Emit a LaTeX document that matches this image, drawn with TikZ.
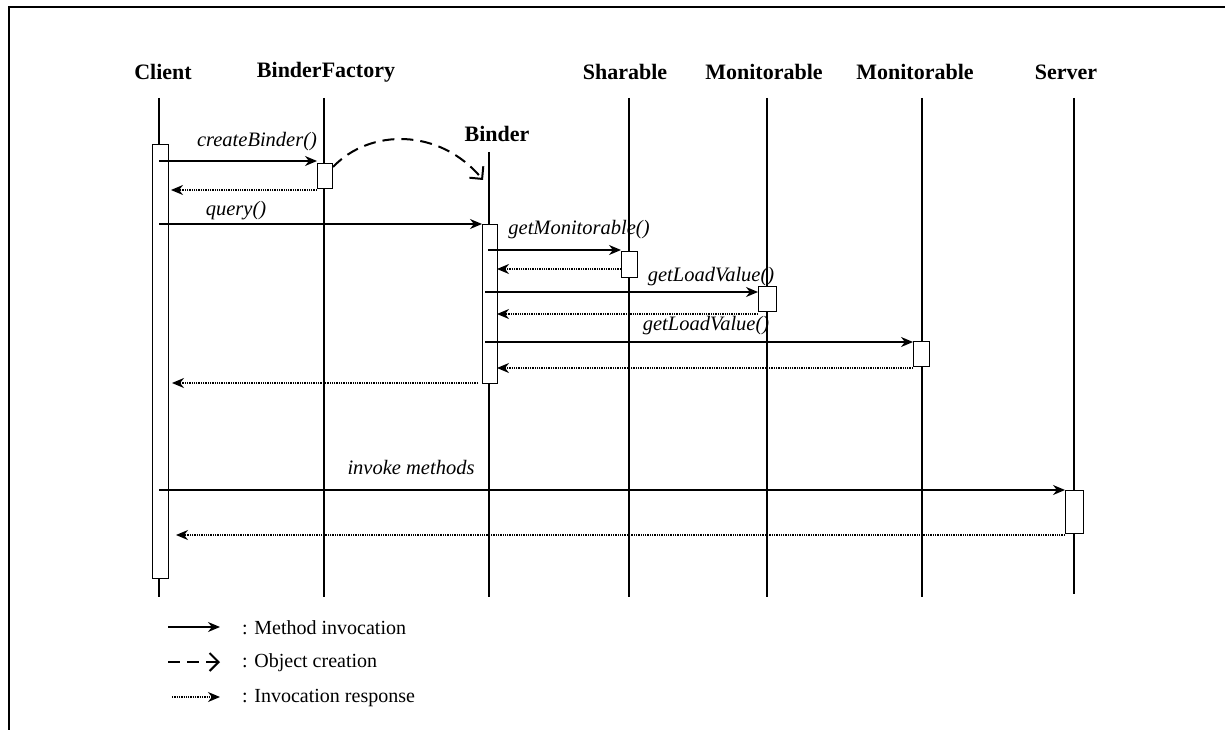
\documentclass[tikz,border=0pt]{standalone}
\usepackage{fontspec}
\setmainfont{Liberation Serif}
\usetikzlibrary{arrows.meta}
\begin{document}
\begin{tikzpicture}[x=1pt,y=-1pt,
  lifeline/.style={line width=1.3pt},
  actbox/.style={draw, fill=white, line width=1.3pt, inner sep=0pt, anchor=north west},
  hdr/.style={font=\fontsize{22}{25}\selectfont\bfseries, inner sep=0pt},
  lbl/.style={font=\fontsize{20.5}{23}\selectfont\itshape, inner sep=0pt},
  leg/.style={font=\fontsize{20}{23}\selectfont, inner sep=0pt, anchor=west},
  call/.style={line width=1.3pt, -{Stealth[length=12pt,width=10pt]}},
  resp/.style={line width=1.3pt, densely dotted, -{Stealth[length=12pt,width=10pt]}},
  create/.style={line width=2pt, dash pattern=on 12pt off 7pt, -{Straight Barb[length=9pt,width=18pt,line width=2pt]}}
]
\useasboundingbox (0,0) rectangle (1225,730);
% frame
\coordinate (fTL) at (9,7);
\coordinate (fTR) at (1225,7);
\coordinate (fBL) at (9,730);
\draw[line width=1.5pt] (fTR) -- (fTL) -- (fBL);

% headers
\node[hdr] (hC) at (163,72) {Client};
\node[hdr] (hBF) at (326,72) {BinderFactory};
\node[hdr] (hB) at (497,134) {Binder};
\node[hdr] (hS) at (625,72) {Sharable};
\node[hdr] (hM1) at (764,72) {Monitorable};
\node[hdr] (hM2) at (915,72) {Monitorable};
\node[hdr] (hSv) at (1066,72) {Server};

% lifelines
\coordinate (lCt) at (159,98);  \coordinate (lCb) at (159,597);
\coordinate (lBFt) at (324,98); \coordinate (lBFb) at (324,597);
\coordinate (lBt) at (489,152); \coordinate (lBb) at (489,597);
\coordinate (lSt) at (629,98);  \coordinate (lSb) at (629,597);
\coordinate (lM1t) at (767,98); \coordinate (lM1b) at (767,597);
\coordinate (lM2t) at (922,98); \coordinate (lM2b) at (922,597);
\coordinate (lSvt) at (1074,98); \coordinate (lSvb) at (1074,594);
\foreach \n in {C,BF,B,S,M1,M2,Sv} {\draw[lifeline] (l\n t) -- (l\n b);}

% activation boxes
\node[actbox, minimum width=16pt, minimum height=434pt] (aC) at (152,144) {};
\node[actbox, minimum width=15pt, minimum height=25pt] (aBF) at (317,163) {};
\node[actbox, minimum width=15pt, minimum height=159pt] (aB) at (482,224) {};
\node[actbox, minimum width=16pt, minimum height=26pt] (aS) at (621,251) {};
\node[actbox, minimum width=18pt, minimum height=25pt] (aM1) at (758,286) {};
\node[actbox, minimum width=16pt, minimum height=25pt] (aM2) at (913,341) {};
\node[actbox, minimum width=18pt, minimum height=43pt] (aSv) at (1065,490) {};

% messages
\coordinate (m1s) at (159,161); \coordinate (m1e) at (317,161);
\draw[call] (m1s) -- (m1e);
\node[lbl] (t1) at (257,142) {createBinder()};
\coordinate (r1s) at (317,190); \coordinate (r1e) at (171,190);
\draw[resp] (r1s) -- (r1e);

\coordinate (crS) at (333,167); \coordinate (crE) at (483,180);
\draw[create] (crS) .. controls (370,128) and (440,128) .. (crE);

\coordinate (m2s) at (159,224); \coordinate (m2e) at (482,224);
\draw[call] (m2s) -- (m2e);
\node[lbl] (t2) at (236,211) {query()};

\coordinate (m3s) at (488,250); \coordinate (m3e) at (621,250);
\draw[call] (m3s) -- (m3e);
\node[lbl] (t3) at (579,230) {getMonitorable()};
\coordinate (r3s) at (621,269); \coordinate (r3e) at (497,269);
\draw[resp] (r3s) -- (r3e);

\coordinate (m4s) at (485,292); \coordinate (m4e) at (758,292);
\draw[call] (m4s) -- (m4e);
\node[lbl] (t4) at (711,277) {getLoadValue()};
\coordinate (r4s) at (758,314); \coordinate (r4e) at (497,314);
\draw[resp] (r4s) -- (r4e);

\coordinate (m5s) at (485,342); \coordinate (m5e) at (913,342);
\draw[call] (m5s) -- (m5e);
\node[lbl] (t5) at (706,326) {getLoadValue()};
\coordinate (r5s) at (913,368); \coordinate (r5e) at (497,368);
\draw[resp] (r5s) -- (r5e);

\coordinate (r6s) at (478,383); \coordinate (r6e) at (172,383);
\draw[resp] (r6s) -- (r6e);

\coordinate (m7s) at (159,490); \coordinate (m7e) at (1065,490);
\draw[call] (m7s) -- (m7e);
\node[lbl] (t7) at (411,467) {invoke methods};
\coordinate (r7s) at (1065,535); \coordinate (r7e) at (176,535);
\draw[resp] (r7s) -- (r7e);

% legend
\coordinate (g1s) at (168,627); \coordinate (g1e) at (220,627);
\draw[call] (g1s) -- (g1e);
\node[leg] (g1t) at (242,628) {: Method invocation};
\coordinate (g2s) at (168,662); \coordinate (g2e) at (220,662);
\draw[create] (g2s) -- (g2e);
\node[leg] (g2t) at (242,663) {: Object creation};
\coordinate (g3s) at (172,697); \coordinate (g3e) at (220,697);
\draw[resp] (g3s) -- (g3e);
\node[leg] (g3t) at (242,698) {: Invocation response};
\end{tikzpicture}
\end{document}
